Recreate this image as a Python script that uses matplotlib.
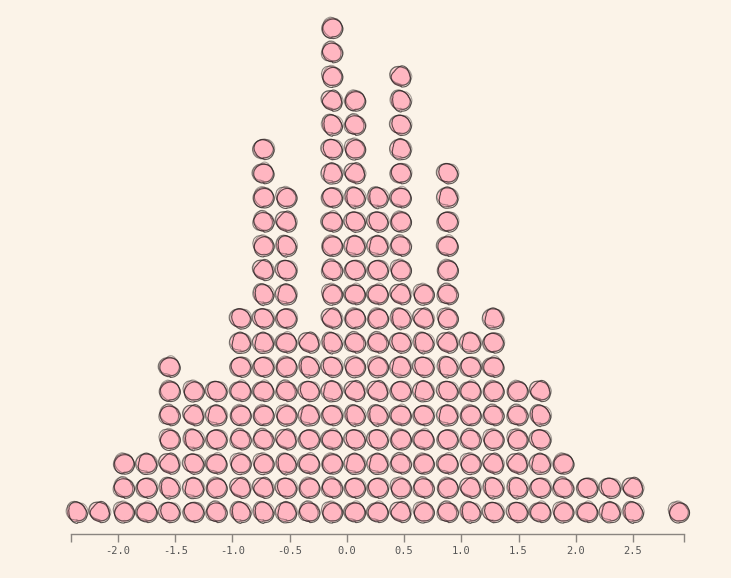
import matplotlib
matplotlib.use("Agg")
import matplotlib.pyplot as plt
from matplotlib.patches import Ellipse

# bin centres (x) and number of stacked dots in each bin
bin_centers = [-2.36, -2.16, -1.95, -1.75, -1.55, -1.34, -1.14, -0.93, -0.73, -0.53,
               -0.33, -0.13, 0.07, 0.27, 0.47, 0.67, 0.88, 1.08, 1.28, 1.49,
               1.69, 1.89, 2.10, 2.30, 2.50, 2.90]
dot_counts = [1, 1, 3, 3, 7, 6, 6, 9, 16, 14,
              8, 21, 18, 14, 19, 10, 15, 8, 9, 6,
              6, 3, 2, 2, 2, 1]

tick_values = [-2.0, -1.5, -1.0, -0.5, 0.0, 0.5, 1.0, 1.5, 2.0, 2.5]
tick_labels = ["-2.0", "-1.5", "-1.0", "-0.5", "0.0", "0.5", "1.0", "1.5", "2.0", "2.5"]

bg = "#fbf3e8"
W, H = 731, 578

fig = plt.figure(figsize=(W / 100, H / 100), dpi=100, facecolor=bg)
ax_left, ax_right, ax_bottom, ax_top = 71, 684, 533.5, 0
ax = fig.add_axes([ax_left / W, (H - ax_bottom) / H,
                   (ax_right - ax_left) / W, (ax_bottom - ax_top) / H])
ax.set_facecolor(bg)

xmin, xmax = -2.411, 2.946
row_px = 24.2
ymin = -21.5 / row_px
ymax = ymin + (ax_bottom - ax_top) / row_px
ax.set_xlim(xmin, xmax)
ax.set_ylim(ymin, ymax)

px_x = (ax_right - ax_left) / (xmax - xmin)   # pixels per x unit
px_y = row_px                                 # pixels per y unit
diam = 19.5

lengths = [22, 30, 17, 26, 35, 20, 28, 24, 32]
offsets = [(0.6, -0.4), (-0.7, 0.6), (0.3, 0.9)]
alphas = [0.75, 0.55, 0.4]
k = 0
for cx, n in zip(bin_centers, dot_counts):
    for i in range(n):
        w = diam / px_x
        h = diam / px_y
        fill = Ellipse((cx, i), w, h, facecolor="#ffb6c1", edgecolor="none",
                       zorder=2, clip_on=False)
        ax.add_patch(fill)
        for j, (dx, dy) in enumerate(offsets):
            ln = lengths[(k * 2 + j * 5) % len(lengths)]
            e = Ellipse((cx + dx / px_x, i + dy / px_y), w * (1 + 0.04 * (j - 1)),
                        h * (1 - 0.04 * (j - 1)), facecolor="none",
                        edgecolor="#2a2222", alpha=alphas[j], lw=0.8,
                        zorder=3, clip_on=False)
            e.set_sketch_params(scale=0.9, length=ln, randomness=2)
            ax.add_patch(e)
        k += 1

for s in ["left", "right", "top"]:
    ax.spines[s].set_visible(False)
ax.spines["bottom"].set_color("#8a8580")
ax.spines["bottom"].set_linewidth(1)
ax.set_yticks([])
ax.set_xticks(tick_values)
ax.set_xticklabels(tick_labels, family="DejaVu Sans Mono", fontsize=7.5, color="#555555")
ax.set_xticks([xmin, xmax], minor=True)
ax.tick_params(axis="x", which="both", length=6, width=1, color="#8a8580", pad=3)

fig.savefig("out.png", dpi=100, facecolor=bg)
